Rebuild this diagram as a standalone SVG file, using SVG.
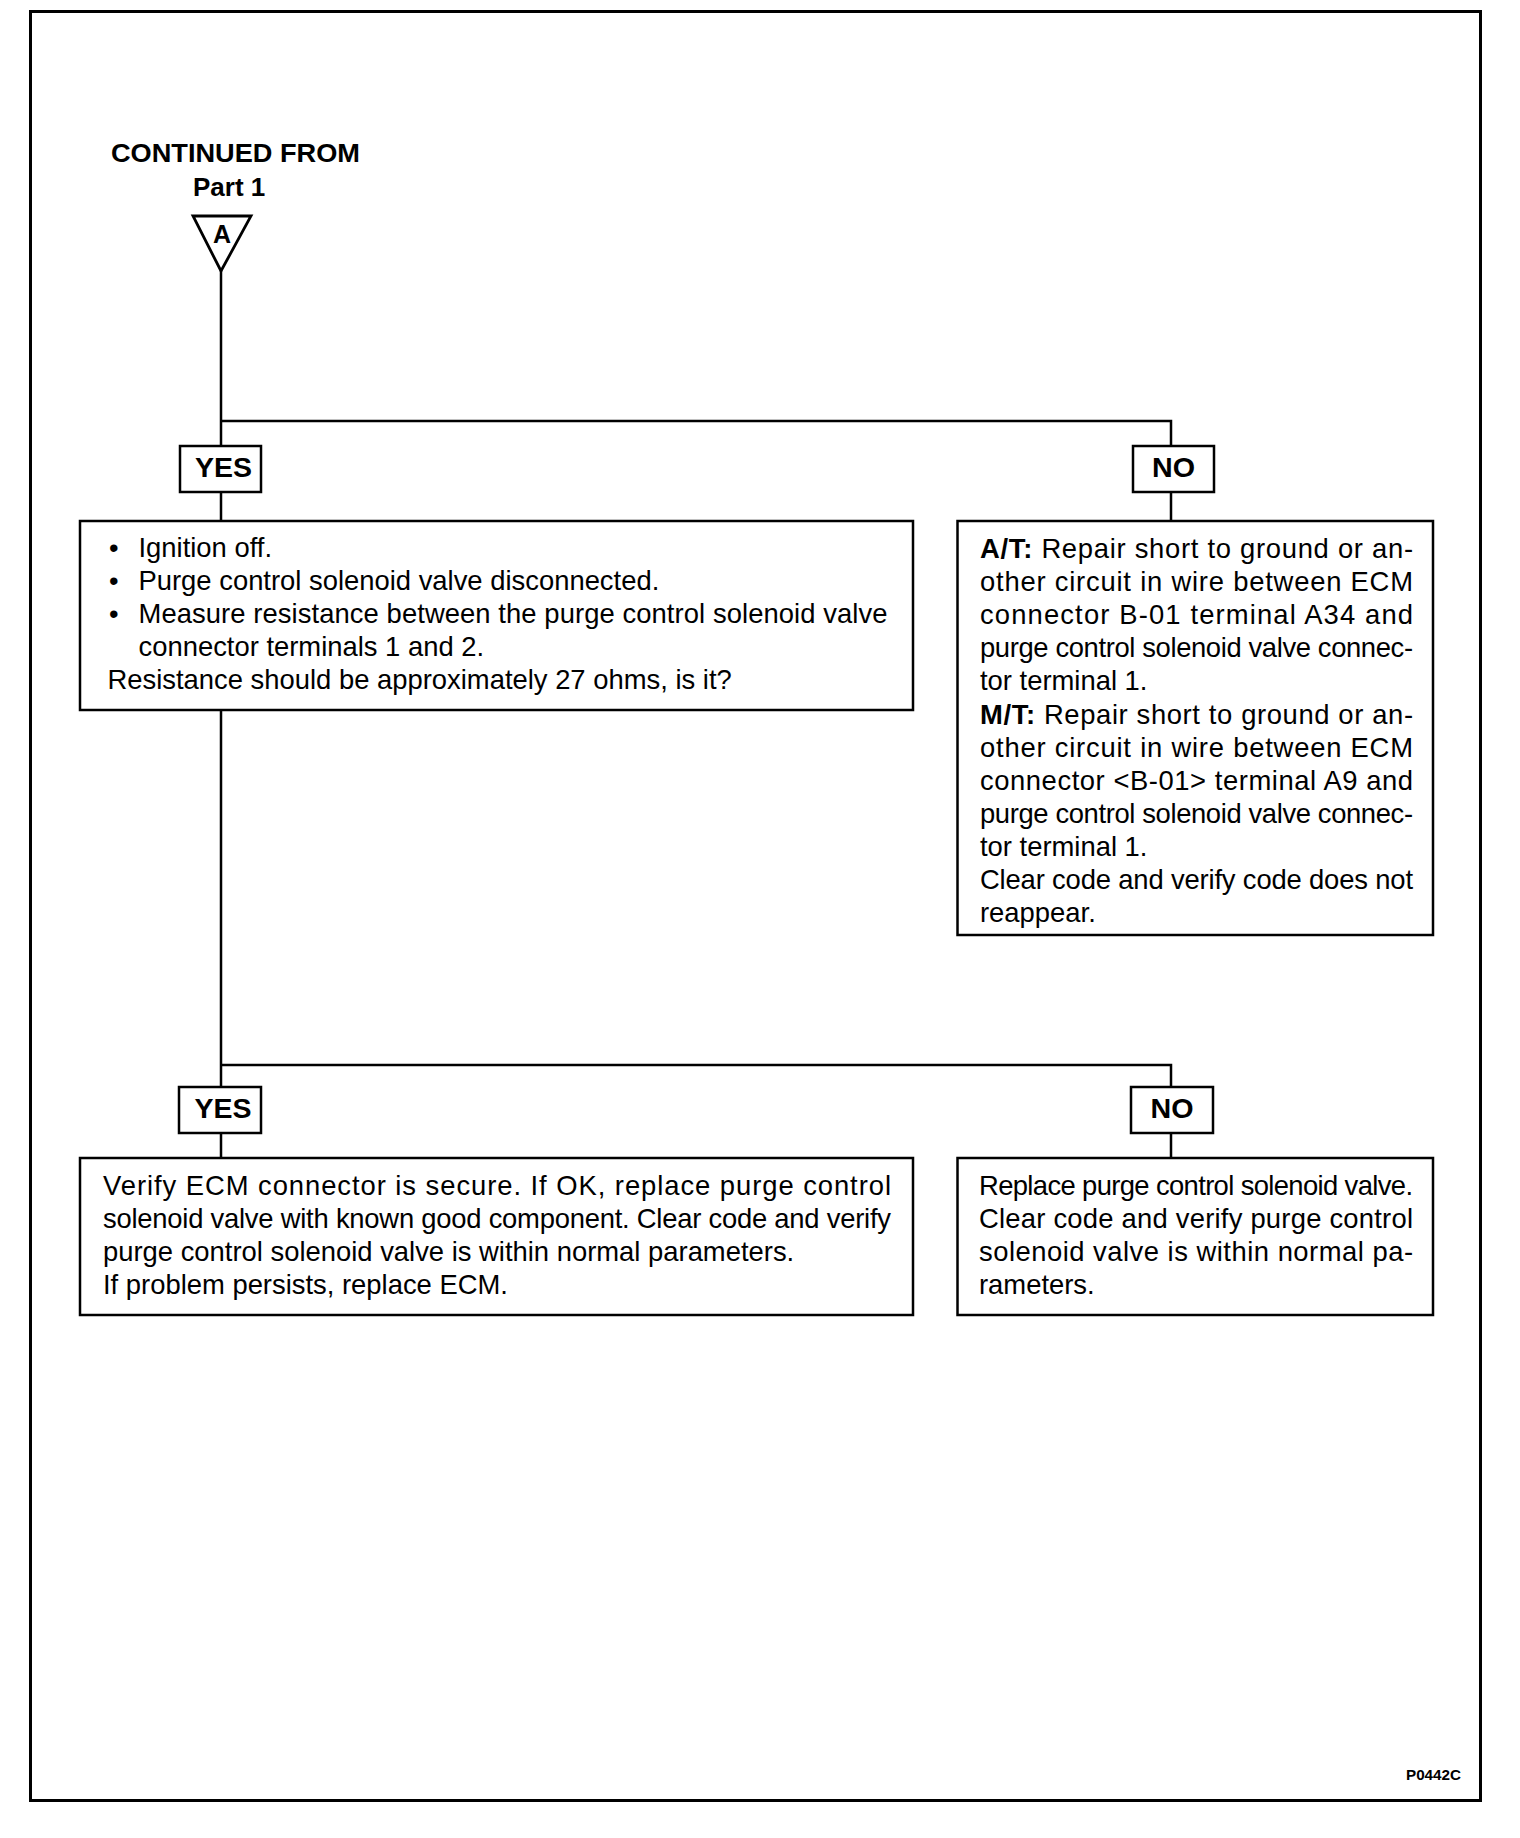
<svg xmlns="http://www.w3.org/2000/svg" width="1520" height="1838" viewBox="0 0 1520 1838">
<style>
.box{fill:#fff;stroke:#000;stroke-width:2.5}
.ln{fill:none;stroke:#000;stroke-width:2.5}
.t{font-family:"Liberation Sans",Arial,Helvetica,sans-serif;font-size:27.4px;fill:#000}
.b{font-family:"Liberation Sans",Arial,Helvetica,sans-serif;font-weight:bold;fill:#000}
</style>
<rect x="0" y="0" width="1520" height="1838" fill="#fff"/>
<rect id="frame" x="30.5" y="11.5" width="1450" height="1789" fill="none" stroke="#000" stroke-width="3"/>

<g id="connectors" class="ln">
<path d="M221 270 V421 H1171 V446 M1171 492 V521 M221 421 V446 M221 492 V521"/>
<path d="M221 710 V1065 H1171 V1087 M1171 1133 V1158 M221 1065 V1087 M221 1133 V1158"/>
</g>

<g id="start">
<text class="b" x="111" y="162" font-size="26" textLength="249" lengthAdjust="spacingAndGlyphs">CONTINUED FROM</text>
<text class="b" x="193" y="196" font-size="26">Part 1</text>
<polygon points="193,216 251,216 221,271" fill="#fff" stroke="#000" stroke-width="2.8"/>
<text class="b" x="222" y="243" font-size="25" text-anchor="middle">A</text>
</g>

<g id="yes1">
<rect class="box" x="180" y="446" width="81" height="46"/>
<text class="b" x="195" y="477" font-size="28" textLength="57" lengthAdjust="spacingAndGlyphs">YES</text>
</g>
<g id="no1">
<rect class="box" x="1133" y="446" width="81" height="46"/>
<text class="b" x="1152" y="477" font-size="28" textLength="43" lengthAdjust="spacingAndGlyphs">NO</text>
</g>

<g id="check-resistance">
<rect class="box" x="80" y="521" width="833" height="189"/>
<text class="t" x="109" y="557">•</text>
<text class="t" x="109" y="590">•</text>
<text class="t" x="109" y="623">•</text>
<text class="t" x="138.5" y="557">Ignition off.</text>
<text class="t" x="138.5" y="590">Purge control solenoid valve disconnected.</text>
<text class="t" x="138.5" y="623" textLength="749" lengthAdjust="spacing">Measure resistance between the purge control solenoid valve</text>
<text class="t" x="138.5" y="656">connector terminals 1 and 2.</text>
<text class="t" x="107.5" y="689">Resistance should be approximately 27 ohms, is it?</text>
</g>

<g id="repair-short">
<rect class="box" x="957.5" y="521" width="475.5" height="414"/>
<text class="t" x="980" y="558" textLength="433" lengthAdjust="spacing"><tspan font-weight="bold">A/T:</tspan> Repair short to ground or  an-</text>
<text class="t" x="980" y="591" textLength="433" lengthAdjust="spacing">other circuit in wire between ECM</text>
<text class="t" x="980" y="624" textLength="433" lengthAdjust="spacing">connector B-01 terminal A34 and</text>
<text class="t" x="980" y="657" textLength="433" lengthAdjust="spacing">purge control solenoid valve connec-</text>
<text class="t" x="980" y="690">tor terminal 1.</text>
<text class="t" x="980" y="723.5" textLength="433" lengthAdjust="spacing"><tspan font-weight="bold">M/T:</tspan> Repair short to ground or  an-</text>
<text class="t" x="980" y="756.5" textLength="433" lengthAdjust="spacing">other circuit in wire between ECM</text>
<text class="t" x="980" y="789.5" textLength="433" lengthAdjust="spacing">connector &lt;B-01&gt; terminal A9 and</text>
<text class="t" x="980" y="822.5" textLength="433" lengthAdjust="spacing">purge control solenoid valve connec-</text>
<text class="t" x="980" y="855.5">tor terminal 1.</text>
<text class="t" x="980" y="889" textLength="433" lengthAdjust="spacing">Clear code and verify code does not</text>
<text class="t" x="980" y="922">reappear.</text>
</g>

<g id="yes2">
<rect class="box" x="179" y="1087" width="82" height="46"/>
<text class="b" x="194.5" y="1118" font-size="28" textLength="57" lengthAdjust="spacingAndGlyphs">YES</text>
</g>
<g id="no2">
<rect class="box" x="1131" y="1087" width="82" height="46"/>
<text class="b" x="1150.5" y="1118" font-size="28" textLength="43" lengthAdjust="spacingAndGlyphs">NO</text>
</g>

<g id="replace-ecm">
<rect class="box" x="80" y="1158" width="833" height="157"/>
<text class="t" x="103" y="1195" textLength="788" lengthAdjust="spacing">Verify ECM connector is secure. If OK, replace purge control</text>
<text class="t" x="103" y="1228" textLength="788" lengthAdjust="spacing">solenoid valve with known good component. Clear code and verify</text>
<text class="t" x="103" y="1261">purge control solenoid valve is within normal parameters.</text>
<text class="t" x="103" y="1294">If problem persists, replace ECM.</text>
</g>

<g id="replace-valve">
<rect class="box" x="957.5" y="1158" width="475.5" height="157"/>
<text class="t" x="979" y="1195" textLength="434" lengthAdjust="spacing">Replace purge control solenoid valve.</text>
<text class="t" x="979" y="1228" textLength="434" lengthAdjust="spacing">Clear code and verify purge control</text>
<text class="t" x="979" y="1261" textLength="434" lengthAdjust="spacing">solenoid valve is within normal pa-</text>
<text class="t" x="979" y="1294">rameters.</text>
</g>

<text id="code" class="b" x="1406" y="1780" font-size="15" textLength="55" lengthAdjust="spacingAndGlyphs">P0442C</text>
</svg>
